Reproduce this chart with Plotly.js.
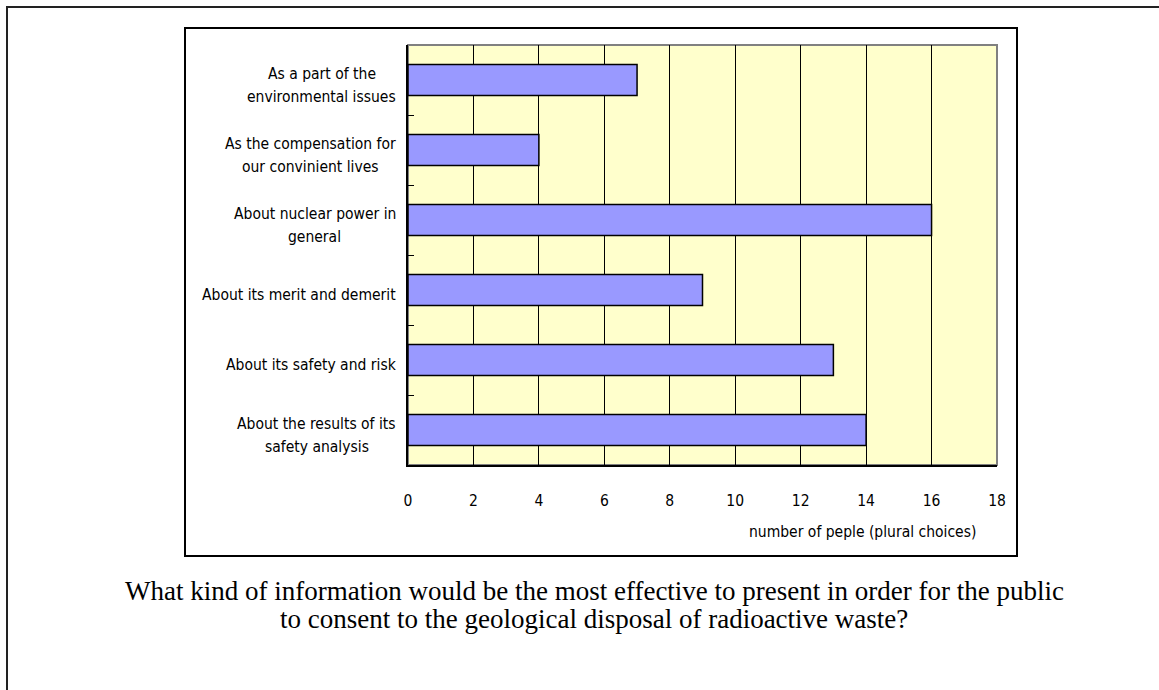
<!DOCTYPE html>
<html>
<head>
<meta charset="utf-8">
<script src="https://cdn.plot.ly/plotly-3.0.1.min.js"></script>
<style>html,body{margin:0;padding:0;background:#fff;}#chart{width:1159px;height:690px;}</style>
</head>
<body>
<div id="chart"></div>
<script>
var categories = [
  "As a part of the<br>environmental issues",
  "As the compensation for<br>our convinient lives",
  "About nuclear power in<br>general",
  "About its merit and demerit",
  "About its safety and risk",
  "About the results of its<br>safety analysis"
];
var values = [7, 4, 16, 9, 13, 14];
var xTicks = [0, 2, 4, 6, 8, 10, 12, 14, 16, 18];
var xAxisTitle = "number of peple (plural choices)";
var captionLines = [
  "What kind of information would be the most effective to present in order for the public",
  "to consent to the geological disposal of radioactive waste?"
];

var narrow = '"Liberation Sans Narrow", "Arial Narrow", "DejaVu Sans Condensed", "Liberation Sans", sans-serif';
var serif = '"Liberation Serif", "Times New Roman", serif';

// plot-area pixel geometry
var W = 1159, H = 690;
var L = 408, R = 997, T = 45, B = 465;
function px(x) { return (x - L) / (R - L); }
function py(y) { return (B - y) / (B - T); }

var trace = {
  type: 'bar',
  orientation: 'h',
  x: values,
  y: categories,
  width: 0.44,
  marker: { color: '#9999FF', line: { color: '#000000', width: 1.5 } },
  hoverinfo: 'x+y'
};

var annotations = [];
var lineGap = 23;
categories.forEach(function (c) {
  var lines = c.split('<br>');
  var n = lines.length;
  // measure the widest line's center so each line centres on the same axis
  lines.forEach(function (t, i) {
    annotations.push({
      xref: 'paper', yref: 'y', x: px(396), y: c,
      xanchor: 'right', yanchor: 'middle', align: 'center',
      text: t, showarrow: false,
      yshift: -5 + ((n - 1) / 2 - i) * lineGap,
      _group: c, _n: n,
      font: { family: narrow, size: 15.5, color: '#000' }
    });
  });
});
annotations.push({
  xref: 'paper', yref: 'paper', x: px(978), y: py(532),
  xanchor: 'right', yanchor: 'middle', text: xAxisTitle, showarrow: false,
  font: { family: narrow, size: 15.5, color: '#000' }
});
captionLines.forEach(function (t, i) {
  annotations.push({
    xref: 'paper', yref: 'paper', x: px(594), y: py(591 + i * 28),
    xanchor: 'center', yanchor: 'middle', text: t, showarrow: false,
    font: { family: serif, size: 27, color: '#000' }
  });
});

// measure text widths so multi-line labels are centred on each other, right-aligned as a block
var canvas = document.createElement('canvas');
var ctx = canvas.getContext('2d');
function textWidth(t, size) {
  ctx.font = size + 'px ' + narrow;
  return ctx.measureText(t).width;
}
var groups = {};
annotations.forEach(function (a) {
  if (a._group) {
    var w = textWidth(a.text, a.font.size);
    a._w = w;
    groups[a._group] = Math.max(groups[a._group] || 0, w);
  }
});
annotations.forEach(function (a) {
  if (a._group) {
    var blockW = groups[a._group];
    a.xanchor = 'center';
    a.x = px(396 - blockW / 2);
    delete a._group; delete a._n; delete a._w;
  }
});

var layout = {
  width: W, height: H,
  margin: { l: L, r: W - R, t: T, b: H - B, pad: 0 },
  paper_bgcolor: '#ffffff',
  plot_bgcolor: '#FFFFCC',
  showlegend: false,
  xaxis: {
    range: [0, 18], tickvals: xTicks, ticktext: xTicks.map(String),
    showgrid: true, gridcolor: '#000000', gridwidth: 1,
    zeroline: false, showline: true, linecolor: '#000000', linewidth: 2,
    ticks: '', ticklabelstandoff: 20,
    tickfont: { family: narrow, size: 15.5, color: '#000' },
    fixedrange: true
  },
  yaxis: {
    type: 'category', autorange: 'reversed',
    showticklabels: false, showgrid: false, zeroline: false,
    showline: true, linecolor: '#000000', linewidth: 2,
    ticks: 'inside', tickson: 'boundaries', ticklen: 6, tickcolor: '#000', tickwidth: 1,
    fixedrange: true
  },
  shapes: [
    { type: 'rect', xref: 'paper', yref: 'paper', x0: 0, x1: 1, y0: 0, y1: 1,
      line: { color: '#808080', width: 2 }, layer: 'below' },
    { type: 'rect', xref: 'paper', yref: 'paper', x0: px(185), x1: px(1017), y0: py(556), y1: py(28),
      line: { color: '#000000', width: 2 } },
    { type: 'rect', xref: 'paper', yref: 'paper', x0: px(7), x1: px(1200), y0: py(720), y1: py(7),
      line: { color: '#222222', width: 2 } }
  ],
  annotations: annotations
};

Plotly.newPlot('chart', [trace], layout, { displayModeBar: false, staticPlot: true });
</script>
</body>
</html>
